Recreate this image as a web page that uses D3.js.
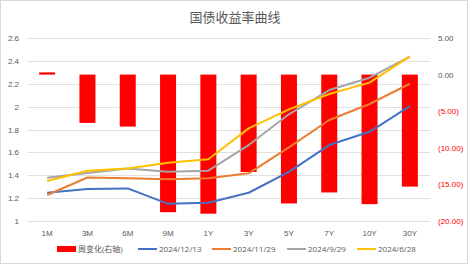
<!DOCTYPE html>
<html>
<head>
<meta charset="utf-8">
<script src="https://cdn.jsdelivr.net/npm/d3@7"></script>
<style>
  body { margin: 0; background: #fff; }
  svg { display: block; font-family: "Open Sans", "Noto Sans CJK SC", sans-serif; }
</style>
</head>
<body>
<script>
// data
const categories = ["1M", "3M", "6M", "9M", "1Y", "3Y", "5Y", "7Y", "10Y", "30Y"];
const weekChange = [0.3, -6.6, -7.1, -18.8, -19.0, -13.3, -17.6, -16.1, -17.7, -15.3];
const y20241213 = [1.247, 1.28, 1.285, 1.15, 1.16, 1.247, 1.43, 1.664, 1.78, 2.005];
const y20241129 = [1.227, 1.38, 1.373, 1.365, 1.373, 1.417, 1.644, 1.883, 2.023, 2.20];
const y20240929 = [1.378, 1.42, 1.46, 1.43, 1.44, 1.664, 1.933, 2.145, 2.253, 2.436];
const y20240628 = [1.35, 1.44, 1.46, 1.51, 1.54, 1.81, 1.976, 2.11, 2.21, 2.44];
const leftTicks = [1, 1.2, 1.4, 1.6, 1.8, 2, 2.2, 2.4, 2.6];
const rightTicks = [5, 0, -5, -10, -15, -20];

const lineSeries = [
  { name: "2024/12/13", values: y20241213, color: "#4472C4" },
  { name: "2024/11/29", values: y20241129, color: "#ED7D31" },
  { name: "2024/9/29", values: y20240929, color: "#A5A5A5" },
  { name: "2024/6/28", values: y20240628, color: "#FFC000" }
];

const w = 469, h = 266;
const plotLeft = 27, plotRight = 430, plotTop = 38, plotBottom = 221;

const svg = d3.select("body").append("svg").attr("width", w).attr("height", h);

// outer border
svg.append("rect")
  .attr("x", 0.5).attr("y", 0.5)
  .attr("width", w - 2).attr("height", h - 3)
  .attr("fill", "#fff").attr("stroke", "#D9D9D9");

// title
svg.append("text")
  .attr("x", 235).attr("y", 22)
  .attr("text-anchor", "middle")
  .attr("font-size", 13)
  .attr("fill", "#595959")
  .text("国债收益率曲线");

const x = d3.scaleBand().domain(categories).range([plotLeft, plotRight]);
const yL = d3.scaleLinear().domain([1, 2.6]).range([plotBottom, plotTop]);
const yR = d3.scaleLinear().domain([-20, 5]).range([plotBottom, plotTop]);

// gridlines
svg.append("g")
  .selectAll("line")
  .data(leftTicks)
  .join("line")
  .attr("x1", plotLeft).attr("x2", plotRight)
  .attr("y1", d => Math.round(yL(d)) + 0.5)
  .attr("y2", d => Math.round(yL(d)) + 0.5)
  .attr("stroke", "#E0E0E0");

// left axis
const axL = svg.append("g")
  .attr("transform", `translate(${plotLeft - 5},0)`)
  .call(d3.axisLeft(yL).tickValues(leftTicks).tickSize(0).tickPadding(3).tickFormat(d3.format("")));
axL.select(".domain").remove();
axL.selectAll("text").attr("font-size", 8).attr("fill", "#595959");

// right axis
const axR = svg.append("g")
  .attr("transform", `translate(${plotRight + 6},0)`)
  .call(d3.axisRight(yR).tickValues(rightTicks).tickSize(0).tickPadding(2)
    .tickFormat(d => d < 0 ? `(${d3.format(".2f")(-d)})` : d3.format(".2f")(d)));
axR.select(".domain").remove();
axR.selectAll("text")
  .attr("font-size", 8)
  .attr("fill", d => d < 0 ? "#FF0000" : "#595959");

// x axis
const axX = svg.append("g")
  .attr("transform", `translate(0,${plotBottom + 6})`)
  .call(d3.axisBottom(x).tickSize(0).tickPadding(3));
axX.select(".domain").remove();
axX.selectAll("text").attr("font-size", 8).attr("fill", "#595959");

// bars on right axis
const bw = 16;
svg.append("g")
  .selectAll("rect")
  .data(weekChange)
  .join("rect")
  .attr("x", (d, i) => x(categories[i]) + x.bandwidth() / 2 - bw / 2)
  .attr("y", d => yR(Math.max(0, d)))
  .attr("width", bw)
  .attr("height", d => Math.abs(yR(d) - yR(0)))
  .attr("fill", "#FF0000");

// lines
const line = d3.line()
  .x((d, i) => x(categories[i]) + x.bandwidth() / 2)
  .y(d => yL(d));

svg.append("g")
  .selectAll("path")
  .data(lineSeries)
  .join("path")
  .attr("d", d => line(d.values))
  .attr("fill", "none")
  .attr("stroke", d => d.color)
  .attr("stroke-width", 2)
  .attr("stroke-linejoin", "round");

// legend
const legendItems = [
  { name: "周变化(右轴)", color: "#FF0000", bar: true, x: 57 },
  { name: "2024/12/13", color: "#4472C4", x: 138 },
  { name: "2024/11/29", color: "#ED7D31", x: 212 },
  { name: "2024/9/29", color: "#A5A5A5", x: 287 },
  { name: "2024/6/28", color: "#FFC000", x: 357 }
];
const lg = svg.append("g").attr("transform", "translate(0,249)");
const item = lg.selectAll("g").data(legendItems).join("g")
  .attr("transform", d => `translate(${d.x},0)`);
item.append("rect")
  .attr("x", 0)
  .attr("y", d => d.bar ? -3 : -1)
  .attr("width", 19)
  .attr("height", d => d.bar ? 6 : 2)
  .attr("fill", d => d.color);
item.append("text")
  .attr("x", 21).attr("y", 3)
  .attr("font-size", 8)
  .attr("fill", "#595959")
  .text(d => d.name);
</script>
</body>
</html>
